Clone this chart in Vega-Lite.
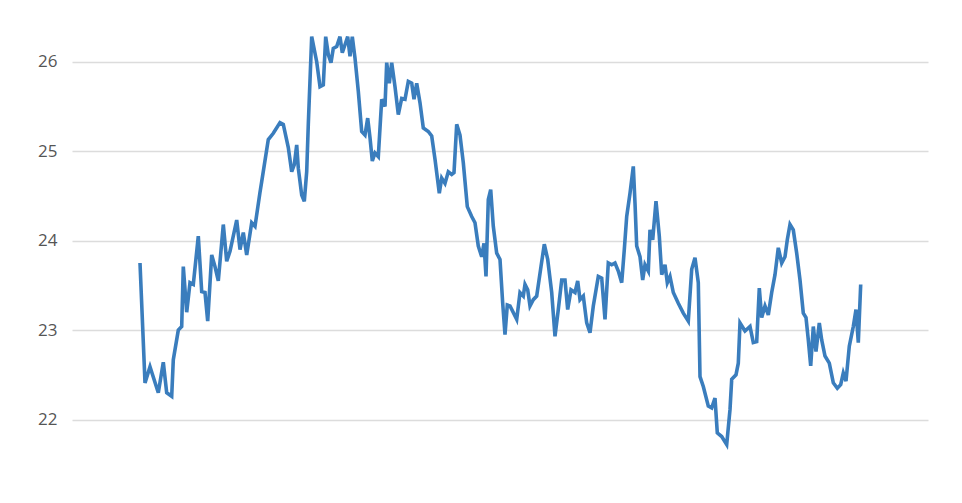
{
  "$schema": "https://vega.github.io/schema/vega-lite/v6.json",
  "width": 856,
  "height": 492,
  "autosize": {"type": "none"},
  "padding": {"left": 72, "right": 34, "top": 17, "bottom": -6},
  "background": "white",
  "config": {"view": {"stroke": null}},
  "data": {"values": [
    {"day": 0, "v": 23.75}, {"day": 5, "v": 22.41}, {"day": 10, "v": 22.59}, {"day": 18.3, "v": 22.30},
    {"day": 23.3, "v": 22.64}, {"day": 26.7, "v": 22.30}, {"day": 31.7, "v": 22.26}, {"day": 33.3, "v": 22.67},
    {"day": 38.3, "v": 23.00}, {"day": 41.7, "v": 23.04}, {"day": 43.3, "v": 23.71}, {"day": 46.7, "v": 23.20},
    {"day": 50, "v": 23.53}, {"day": 53.3, "v": 23.51}, {"day": 58.3, "v": 24.05}, {"day": 61.7, "v": 23.43},
    {"day": 65, "v": 23.42}, {"day": 67.7, "v": 23.10}, {"day": 71.7, "v": 23.84}, {"day": 75, "v": 23.71},
    {"day": 78.3, "v": 23.55}, {"day": 83.3, "v": 24.18}, {"day": 86.7, "v": 23.77}, {"day": 90, "v": 23.88},
    {"day": 96.7, "v": 24.23}, {"day": 100, "v": 23.90}, {"day": 103.3, "v": 24.09}, {"day": 106.7, "v": 23.84},
    {"day": 111.7, "v": 24.20}, {"day": 115, "v": 24.16}, {"day": 120, "v": 24.54}, {"day": 121.7, "v": 24.66},
    {"day": 128.3, "v": 25.13}, {"day": 133.3, "v": 25.20}, {"day": 140, "v": 25.32}, {"day": 143.3, "v": 25.30},
    {"day": 148.3, "v": 25.04}, {"day": 151.7, "v": 24.77}, {"day": 154.3, "v": 24.85}, {"day": 156.7, "v": 25.07},
    {"day": 158.3, "v": 24.81}, {"day": 161.7, "v": 24.51}, {"day": 164.3, "v": 24.44}, {"day": 166.7, "v": 24.77},
    {"day": 168.3, "v": 25.30}, {"day": 171.7, "v": 26.28}, {"day": 176.7, "v": 26.00}, {"day": 180, "v": 25.72},
    {"day": 183.3, "v": 25.74}, {"day": 185.7, "v": 26.28}, {"day": 188.3, "v": 26.08}, {"day": 191, "v": 25.99},
    {"day": 193.3, "v": 26.15}, {"day": 196.7, "v": 26.17}, {"day": 200, "v": 26.28}, {"day": 202.3, "v": 26.10},
    {"day": 205, "v": 26.19}, {"day": 207.7, "v": 26.28}, {"day": 210, "v": 26.06}, {"day": 212.3, "v": 26.28},
    {"day": 215, "v": 26.04}, {"day": 218.3, "v": 25.67}, {"day": 221.7, "v": 25.22}, {"day": 225, "v": 25.18},
    {"day": 227.7, "v": 25.37}, {"day": 230, "v": 25.15}, {"day": 232.3, "v": 24.89}, {"day": 235, "v": 24.98},
    {"day": 238.3, "v": 24.94}, {"day": 241.7, "v": 25.58}, {"day": 245, "v": 25.50}, {"day": 246.7, "v": 25.99},
    {"day": 249.3, "v": 25.76}, {"day": 251.7, "v": 25.99}, {"day": 255, "v": 25.72}, {"day": 258.3, "v": 25.41},
    {"day": 261.7, "v": 25.59}, {"day": 265, "v": 25.58}, {"day": 268.3, "v": 25.78}, {"day": 271.7, "v": 25.76},
    {"day": 274, "v": 25.58}, {"day": 276.7, "v": 25.76}, {"day": 280, "v": 25.54}, {"day": 283.3, "v": 25.26},
    {"day": 288.3, "v": 25.22}, {"day": 291.7, "v": 25.17}, {"day": 295, "v": 24.91}, {"day": 299.3, "v": 24.53},
    {"day": 301.7, "v": 24.70}, {"day": 305, "v": 24.64}, {"day": 308.3, "v": 24.77}, {"day": 311.7, "v": 24.74},
    {"day": 314, "v": 24.76}, {"day": 316.7, "v": 25.30}, {"day": 320, "v": 25.18}, {"day": 323.3, "v": 24.87},
    {"day": 327.3, "v": 24.38}, {"day": 331.7, "v": 24.27}, {"day": 335, "v": 24.20}, {"day": 338.3, "v": 23.94},
    {"day": 341.7, "v": 23.82}, {"day": 344, "v": 23.97}, {"day": 346, "v": 23.60}, {"day": 348.3, "v": 24.46},
    {"day": 350.7, "v": 24.57}, {"day": 353.3, "v": 24.16}, {"day": 356.7, "v": 23.86}, {"day": 360, "v": 23.79},
    {"day": 362.7, "v": 23.30}, {"day": 365, "v": 22.95}, {"day": 367.3, "v": 23.28}, {"day": 370, "v": 23.27},
    {"day": 376.7, "v": 23.12}, {"day": 380, "v": 23.42}, {"day": 383.3, "v": 23.38}, {"day": 385, "v": 23.51},
    {"day": 387.7, "v": 23.45}, {"day": 390, "v": 23.27}, {"day": 393.3, "v": 23.34}, {"day": 396.7, "v": 23.38},
    {"day": 401, "v": 23.71}, {"day": 404.3, "v": 23.96}, {"day": 407.7, "v": 23.79}, {"day": 411.7, "v": 23.42},
    {"day": 415, "v": 22.93}, {"day": 418.3, "v": 23.23}, {"day": 421.7, "v": 23.56}, {"day": 425, "v": 23.56},
    {"day": 427.7, "v": 23.23}, {"day": 431, "v": 23.45}, {"day": 435, "v": 23.42}, {"day": 437.7, "v": 23.55},
    {"day": 440, "v": 23.34}, {"day": 443.3, "v": 23.38}, {"day": 446.7, "v": 23.08}, {"day": 450, "v": 22.97},
    {"day": 453.3, "v": 23.27}, {"day": 458.3, "v": 23.60}, {"day": 461.7, "v": 23.58}, {"day": 465, "v": 23.12},
    {"day": 468.3, "v": 23.75}, {"day": 471.7, "v": 23.73}, {"day": 475, "v": 23.75}, {"day": 478.3, "v": 23.66},
    {"day": 481.7, "v": 23.53}, {"day": 484.3, "v": 23.90}, {"day": 486.7, "v": 24.27}, {"day": 490, "v": 24.53},
    {"day": 493.3, "v": 24.83}, {"day": 495, "v": 24.42}, {"day": 496.7, "v": 23.94}, {"day": 500, "v": 23.82},
    {"day": 502.7, "v": 23.56}, {"day": 505, "v": 23.73}, {"day": 508.3, "v": 23.66}, {"day": 510, "v": 24.12},
    {"day": 512.7, "v": 24.01}, {"day": 516, "v": 24.44}, {"day": 519.3, "v": 24.05}, {"day": 521.7, "v": 23.62},
    {"day": 525, "v": 23.73}, {"day": 527.3, "v": 23.53}, {"day": 530, "v": 23.60}, {"day": 533.3, "v": 23.42},
    {"day": 538.3, "v": 23.30}, {"day": 543.3, "v": 23.19}, {"day": 548.3, "v": 23.10}, {"day": 551.7, "v": 23.68},
    {"day": 555, "v": 23.81}, {"day": 558.3, "v": 23.53}, {"day": 560, "v": 22.48}, {"day": 563.3, "v": 22.37},
    {"day": 568.3, "v": 22.15}, {"day": 571.7, "v": 22.13}, {"day": 575, "v": 22.24}, {"day": 577.3, "v": 21.85},
    {"day": 581.7, "v": 21.81}, {"day": 586.7, "v": 21.72}, {"day": 590, "v": 22.11}, {"day": 591.7, "v": 22.45},
    {"day": 596, "v": 22.50}, {"day": 598.3, "v": 22.63}, {"day": 600, "v": 23.08}, {"day": 605, "v": 22.99},
    {"day": 610, "v": 23.04}, {"day": 613.3, "v": 22.86}, {"day": 616.7, "v": 22.87}, {"day": 619.3, "v": 23.47},
    {"day": 621.7, "v": 23.14}, {"day": 625, "v": 23.27}, {"day": 628.3, "v": 23.17}, {"day": 631.7, "v": 23.42},
    {"day": 635, "v": 23.62}, {"day": 638.3, "v": 23.92}, {"day": 641.7, "v": 23.75}, {"day": 645, "v": 23.82},
    {"day": 647.3, "v": 24.01}, {"day": 650, "v": 24.18}, {"day": 653.3, "v": 24.12}, {"day": 656.7, "v": 23.86},
    {"day": 660, "v": 23.56}, {"day": 663.3, "v": 23.19}, {"day": 666, "v": 23.14}, {"day": 668.3, "v": 22.89},
    {"day": 670.7, "v": 22.60}, {"day": 673.3, "v": 23.04}, {"day": 676, "v": 22.76}, {"day": 679.3, "v": 23.08},
    {"day": 681.7, "v": 22.89}, {"day": 685, "v": 22.71}, {"day": 689.3, "v": 22.63}, {"day": 693.3, "v": 22.41},
    {"day": 697.3, "v": 22.35}, {"day": 700.7, "v": 22.39}, {"day": 703.3, "v": 22.52}, {"day": 706, "v": 22.43},
    {"day": 709.3, "v": 22.82}, {"day": 713.3, "v": 23.04}, {"day": 716, "v": 23.23}, {"day": 718.3, "v": 22.86},
    {"day": 720.7, "v": 23.51}
  ]},
  "mark": {"type": "line", "color": "#3a7dbd", "strokeWidth": 3.6, "strokeJoin": "miter", "clip": false},
  "encoding": {
    "x": {"field": "day", "type": "quantitative", "scale": {"domain": [-68, 788], "nice": false, "zero": false}, "axis": null},
    "y": {"field": "v", "type": "quantitative", "scale": {"domain": [21, 26.5], "nice": false, "zero": false},
      "axis": {"values": [21, 22, 23, 24, 25, 26], "title": null, "domain": false, "ticks": false,
        "labelFont": "Open Sans", "labelFontSize": 17, "labelColor": "#555555", "labelPadding": 15,
        "grid": true, "gridColor": "#dcdcdc", "gridWidth": 1.5}}
  }
}
